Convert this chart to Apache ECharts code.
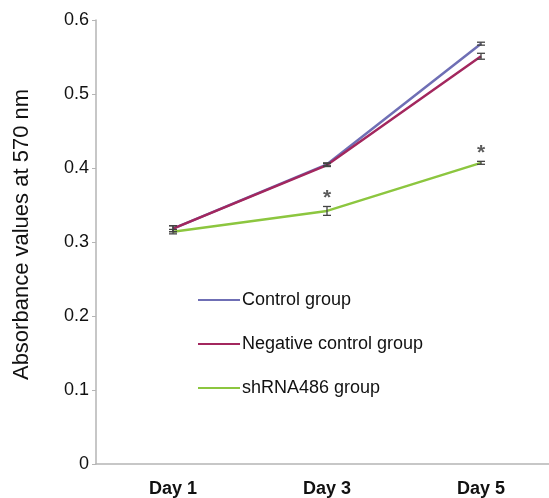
<!DOCTYPE html>
<html>
<head>
<meta charset="utf-8">
<script src="https://cdn.jsdelivr.net/npm/echarts@6/dist/echarts.min.js"></script>
<style>html,body{margin:0;padding:0;background:#fff}#c{width:549px;height:498px}</style>
</head>
<body>
<div id="c"></div>
<script>
var categories = ['Day 1', 'Day 3', 'Day 5'];
var seriesNames = ['Control group', 'Negative control group', 'shRNA486 group'];
var controlValues = [0.318, 0.405, 0.568];
var negativeValues = [0.318, 0.404, 0.551];
var shrnaValues = [0.314, 0.342, 0.407];
var controlErrors = [0.004, 0.002, 0.002];
var negativeErrors = [0.004, 0.002, 0.004];
var shrnaErrors = [0.003, 0.006, 0.002];
var shrnaSignificance = ['', '*', '*'];
var yTicks = [0, 0.1, 0.2, 0.3, 0.4, 0.5, 0.6];

var colors = ['#6f6fb5', '#a3275e', '#8cc63f'];
var FONT = 'Liberation Sans, Arial, sans-serif';

function errData(vals, errs) {
  return vals.map(function (v, i) { return [i, v - errs[i], v + errs[i]]; });
}
function errSeries(vals, errs) {
  return {
    type: 'custom',
    z: 5,
    silent: true,
    data: errData(vals, errs),
    renderItem: function (params, api) {
      var x = api.value(0);
      var lo = api.coord([x, api.value(1)]);
      var hi = api.coord([x, api.value(2)]);
      var w = 4;
      var st = { stroke: '#444', lineWidth: 1.3 };
      return {
        type: 'group',
        children: [
          { type: 'line', shape: { x1: lo[0], y1: lo[1], x2: hi[0], y2: hi[1] }, style: st },
          { type: 'line', shape: { x1: lo[0] - w, y1: lo[1], x2: lo[0] + w, y2: lo[1] }, style: st },
          { type: 'line', shape: { x1: hi[0] - w, y1: hi[1], x2: hi[0] + w, y2: hi[1] }, style: st }
        ]
      };
    }
  };
}
function lineSeries(name, vals, color) {
  return {
    name: name,
    type: 'line',
    data: vals,
    showSymbol: false,
    symbol: 'none',
    lineStyle: { color: color, width: 2.5 },
    itemStyle: { color: color },
    z: 3
  };
}
function sigSeries(vals, errs, sig) {
  var d = [];
  vals.forEach(function (v, i) { if (sig[i]) d.push({ value: [i, v + errs[i]], mark: sig[i] }); });
  return {
    type: 'scatter',
    data: d,
    symbolSize: 1,
    itemStyle: { color: 'rgba(0,0,0,0)' },
    silent: true,
    z: 6,
    label: {
      show: true, position: 'top', distance: -3,
      formatter: function (p) { return p.data.mark; },
      fontSize: 21, fontWeight: 'bold', color: '#333', fontFamily: FONT
    }
  };
}

var chart = echarts.init(document.getElementById('c'), null, { renderer: 'canvas' });
chart.setOption({
  animation: false,
  backgroundColor: '#fff',
  grid: { left: 96, top: 20, bottom: 34, width: 462, outerBoundsMode: 'none', containLabel: false },
  legend: {
    orient: 'vertical',
    left: 193,
    top: 286,
    itemWidth: 42,
    itemHeight: 2,
    itemGap: 26,
    icon: 'rect',
    textStyle: { fontSize: 18, color: '#111', fontFamily: FONT, padding: [0, 0, 0, -3] },
    data: seriesNames.map(function (n, i) { return { name: n, itemStyle: { color: colors[i] } }; })
  },
  xAxis: {
    type: 'category',
    data: categories,
    boundaryGap: true,
    axisLine: { lineStyle: { color: '#b5b5b5', width: 1.5 } },
    axisTick: { show: false },
    axisLabel: { fontSize: 18, color: '#111', fontFamily: FONT, margin: 16, fontWeight: 'bold' }
  },
  yAxis: {
    type: 'value',
    min: 0,
    max: 0.6,
    interval: 0.1,
    name: 'Absorbance values at 570 nm',
    nameLocation: 'middle',
    nameGap: 63,
    nameRotate: 90,
    nameTextStyle: { fontSize: 22, color: '#111', fontFamily: FONT, padding: [0, 0, 0, 15] },
    axisLine: { show: true, lineStyle: { color: '#b5b5b5', width: 1.5 } },
    axisTick: { show: true, length: 4, lineStyle: { color: '#b5b5b5' } },
    splitLine: { show: false },
    axisLabel: {
      fontSize: 18, color: '#111', fontFamily: FONT, margin: 7,
      formatter: function (v) {
        var t = yTicks.filter(function (y) { return Math.abs(y - v) < 1e-9; });
        return t.length ? String(t[0]) : '';
      }
    }
  },
  series: [
    lineSeries(seriesNames[0], controlValues, colors[0]),
    lineSeries(seriesNames[1], negativeValues, colors[1]),
    lineSeries(seriesNames[2], shrnaValues, colors[2]),
    errSeries(controlValues, controlErrors),
    errSeries(negativeValues, negativeErrors),
    errSeries(shrnaValues, shrnaErrors),
    sigSeries(shrnaValues, shrnaErrors, shrnaSignificance)
  ]
});
</script>
</body>
</html>
